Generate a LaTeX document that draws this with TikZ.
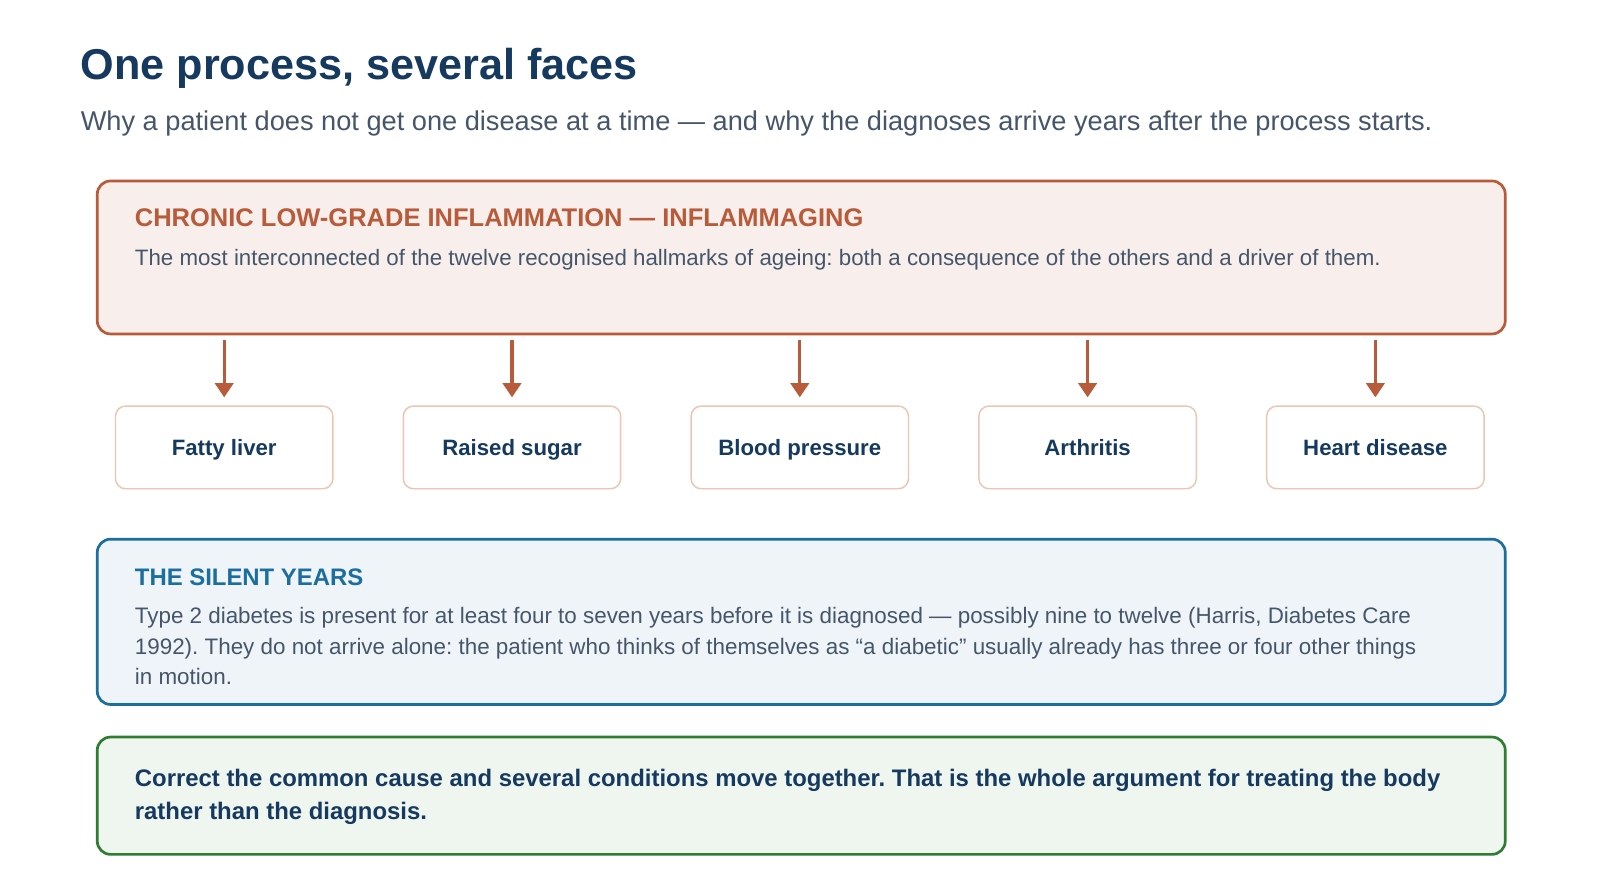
\documentclass[tikz,border=0pt]{standalone}
\usepackage{fontspec}
\setmainfont{Liberation Sans}
\usetikzlibrary{arrows.meta}
\frenchspacing
\definecolor{navy}{HTML}{163A5F}
\definecolor{bodygray}{HTML}{46566A}
\definecolor{rust}{HTML}{B85B3A}
\definecolor{rustfill}{HTML}{F8EFEC}
\definecolor{peach}{HTML}{EBC6B6}
\definecolor{steel}{HTML}{1B6E9E}
\definecolor{steelfill}{HTML}{EEF4F8}
\definecolor{leaf}{HTML}{2E7D32}
\definecolor{leaffill}{HTML}{EFF5EF}
\tikzset{
  panel/.style={draw, line width=2.7pt, rounded corners=13.3pt, anchor=north west, minimum width=1408pt, inner sep=0pt},
  facebox/.style={draw=peach, line width=1.45pt, rounded corners=10.2pt, fill=white, minimum width=217.4pt, minimum height=82.7pt, inner sep=0pt, text height=15.2pt, text depth=0pt, text=navy, font=\fontsize{22.2}{26}\selectfont\bfseries},
  txt/.style={anchor=base west, inner sep=0pt},
  arr/.style={draw=rust, line width=3.1pt, -{Triangle[length=14.3pt,width=18.4pt]}},
}
\begin{document}
\begin{tikzpicture}[x=1pt,y=-1pt]
\useasboundingbox[fill=white] (0,0) rectangle (1600,889);
% title
\node[txt, text=navy, font=\fontsize{43.2}{50}\selectfont\bfseries] (title) at (80.6,79.6) {One process, several faces};
\node[txt, text=bodygray, font=\fontsize{27.2}{32}\selectfont] (sub) at (80.6,130.6) {Why a patient does not get one disease at a time — and why the diagnoses arrive years after the process starts.};
% red panel
\node[panel, draw=rust, fill=rustfill, minimum height=153pt] (red) at (95.9,179.6) {};
\node[txt, text=rust, font=\fontsize{25.5}{30}\selectfont\bfseries] (redh) at (134.7,226.3) {CHRONIC LOW-GRADE INFLAMMATION — INFLAMMAGING};
\node[txt, text=bodygray, font=\fontsize{22.3}{27}\selectfont] (redb) at (134.7,265.3) {The most interconnected of the twelve recognised hallmarks of ageing: both a consequence of the others and a driver of them.};
% faces
\node[facebox] (f1) at (224.2,447.4) {Fatty liver};
\node[facebox] (f2) at (512,447.4) {Raised sugar};
\node[facebox] (f3) at (799.8,447.4) {Blood pressure};
\node[facebox] (f4) at (1087.6,447.4) {Arthritis};
\node[facebox] (f5) at (1375.4,447.4) {Heart disease};
\foreach \i in {1,...,5}{
  \draw[arr] ([yshift=-5pt]red.south -| f\i.north) -- ([yshift=8pt]f\i.north);
}
% blue panel
\node[panel, draw=steel, fill=steelfill, minimum height=165.3pt] (blue) at (95.9,537.8) {};
\node[txt, text=steel, font=\fontsize{23.9}{28}\selectfont\bfseries] (blueh) at (134.7,585.7) {THE SILENT YEARS};
\node[txt, text=bodygray, font=\fontsize{22.4}{30.6}\selectfont, align=left] (blueb) at (134.7,684.7) {Type 2 diabetes is present for at least four to seven years before it is diagnosed — possibly nine to twelve (Harris, Diabetes Care\\1992). They do not arrive alone: the patient who thinks of themselves as “a diabetic” usually already has three or four other things\\in motion.};
% green panel
\node[panel, draw=leaf, fill=leaffill, minimum height=117.3pt] (green) at (95.9,735.7) {};
\node[txt, text=navy, font=\fontsize{23.9}{32.7}\selectfont\bfseries, align=left] (greent) at (134.7,819.4) {Correct the common cause and several conditions move together. That is the whole argument for treating the body\\rather than the diagnosis.};
\end{tikzpicture}
\end{document}
